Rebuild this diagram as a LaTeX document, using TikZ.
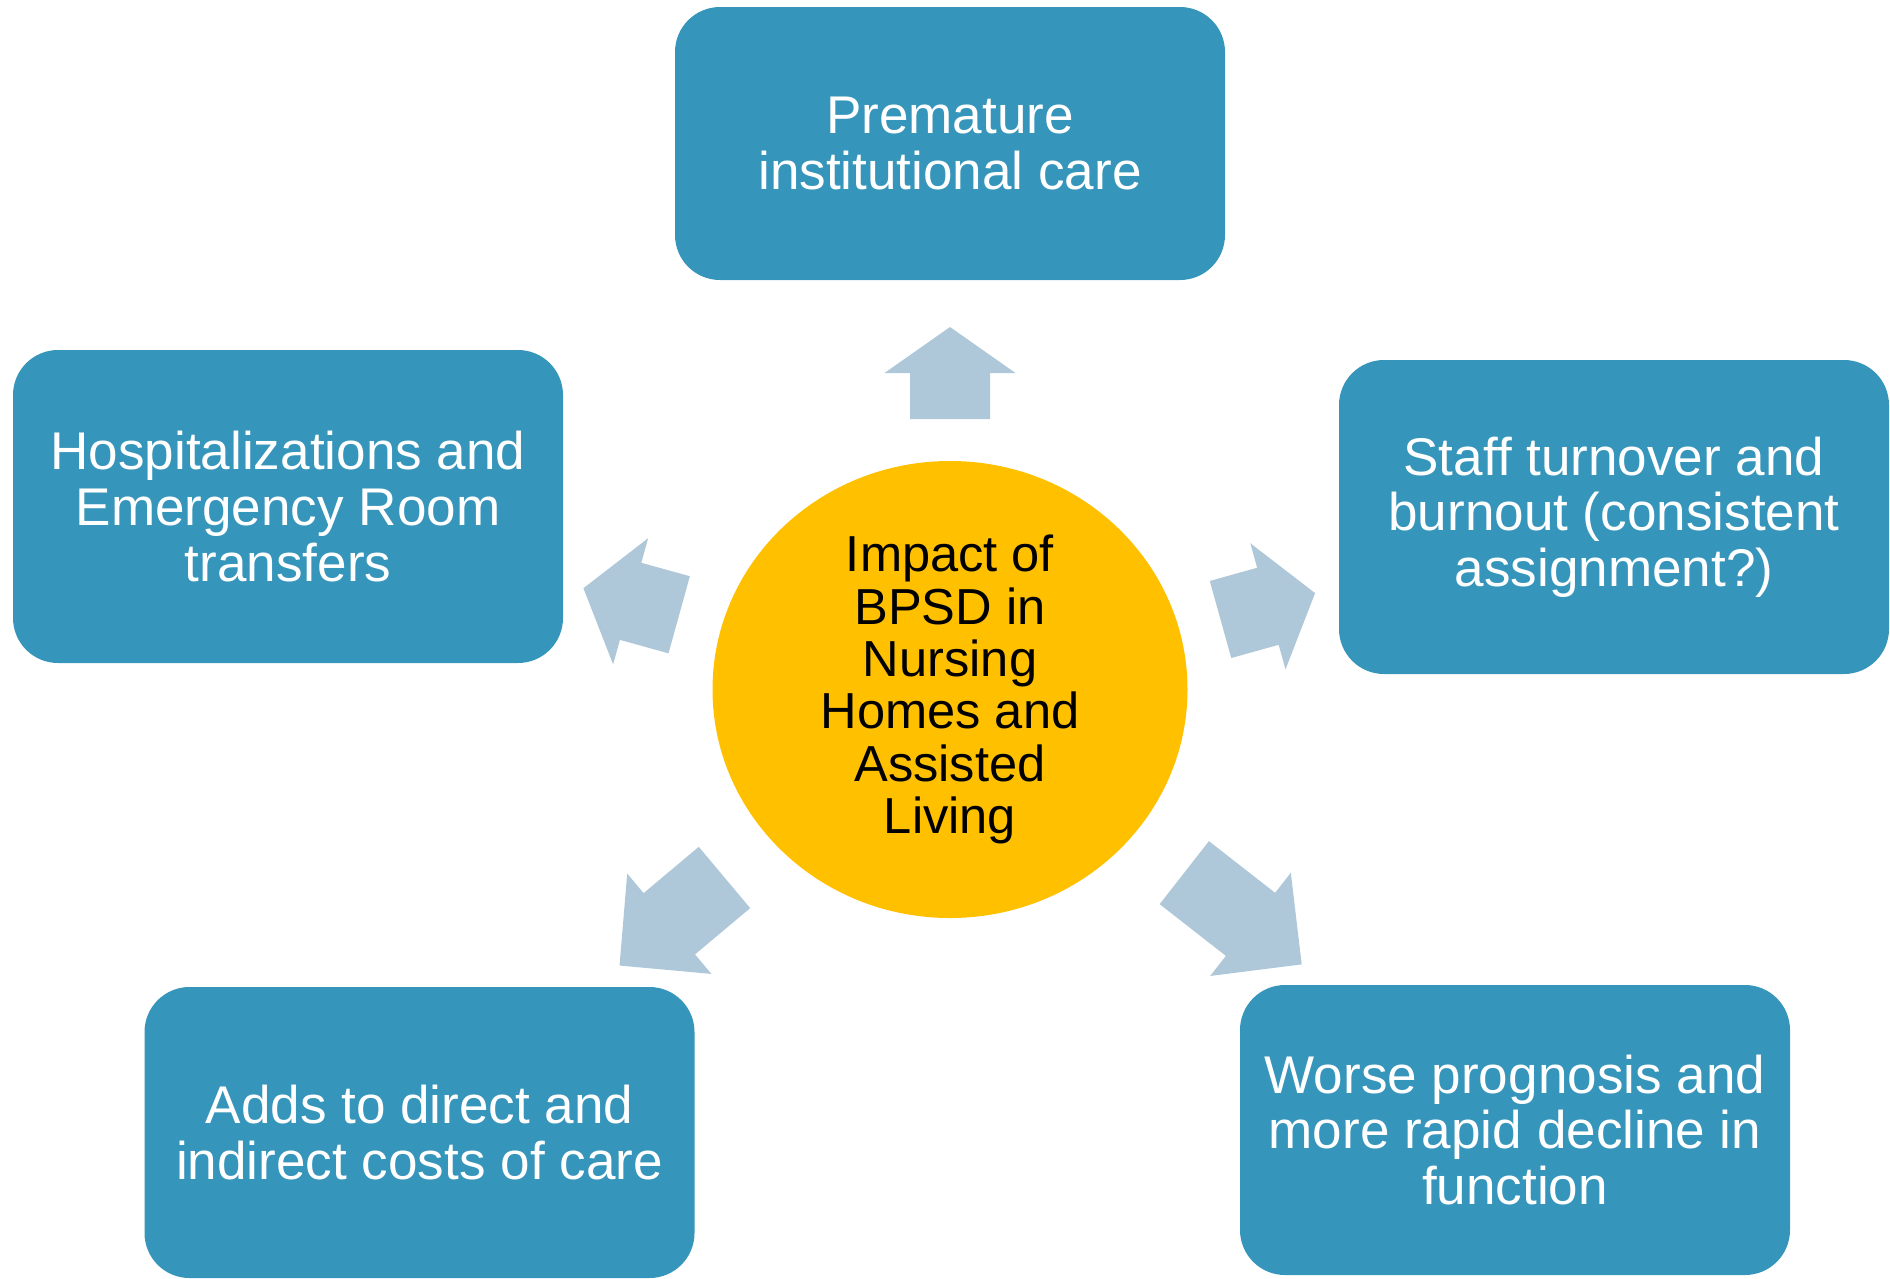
\documentclass[tikz,border=0pt]{standalone}
\usepackage{fontspec}
\setmainfont{Liberation Sans}
\usepackage{tikz}
\usetikzlibrary{shapes.geometric}
\definecolor{boxblue}{RGB}{54,149,186}
\definecolor{hubgold}{RGB}{255,192,0}
\definecolor{arrowgrey}{RGB}{175,200,217}
% block arrow: centre, angle, length, head length
\newcommand{\blockarrow}[4]{%
  \fill[push,shift={#1},rotate=#2]
    (-#3/2,-0.40) -- (#3/2-#4,-0.40) -- (#3/2-#4,-0.655) -- (#3/2,0)
    -- (#3/2-#4,0.655) -- (#3/2-#4,0.40) -- (-#3/2,0.40) -- cycle;}

\begin{document}
\begin{tikzpicture}
\tikzset{effect/.style = {shape=rectangle,rounded corners=0.45cm,fill=boxblue,text=white,
  minimum width=5.5cm,inner sep=0pt,align=center,font=\fontsize{15.1}{15.8}\selectfont}}
\tikzset{hub/.style = {shape=ellipse,fill=hubgold,text=black,minimum width=4.75cm,
  minimum height=4.57cm,inner sep=0pt,align=center,font=\fontsize{14.4}{14.9}\selectfont}}
\tikzset{push/.style = {fill=arrowgrey}}
\useasboundingbox (0,0) rectangle (18.9,-12.78);
% hub
\node[hub] (impact) at (9.50,-6.895) {Impact of\\BPSD in\\Nursing\\Homes and\\Assisted\\Living};
% effects
\node[effect,minimum height=2.73cm] (premature) at (9.50,-1.435) {Premature\\institutional care};
\node[effect,minimum height=3.13cm] (hospital) at (2.88,-5.065) {Hospitalizations and\\Emergency Room\\transfers};
\node[effect,minimum height=3.14cm] (staff) at (16.14,-5.17) {Staff turnover and\\burnout (consistent\\assignment?)};
\node[effect,minimum height=2.91cm] (costs) at (4.195,-11.325) {Adds to direct and\\indirect costs of care};
\node[effect,minimum height=2.90cm] (decline) at (15.15,-11.30) {Worse prognosis and\\more rapid decline in\\function};
% arrows
\blockarrow{(9.50,-3.73)}{90}{0.92}{0.46}
\blockarrow{(6.313,-6.015)}{164.5}{0.994}{0.49}
\blockarrow{(12.678,-6.063)}{15.6}{0.982}{0.49}
\blockarrow{(6.72,-9.215)}{220}{1.37}{0.65}
\blockarrow{(12.43,-9.185)}{-38}{1.49}{0.65}
\end{tikzpicture}
\end{document}
